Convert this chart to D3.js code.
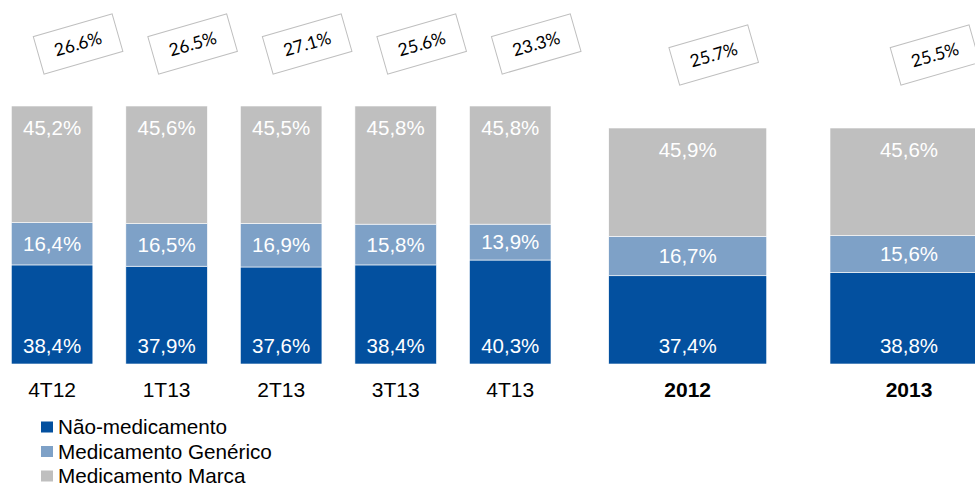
<!DOCTYPE html>
<html>
<head>
<meta charset="utf-8">
<script src="https://cdn.jsdelivr.net/npm/d3@7"></script>
<style>
  html, body { margin: 0; padding: 0; background: #fff; overflow: hidden; }
  svg { display: block; }
</style>
</head>
<body>
<svg id="chart" width="975" height="487"></svg>
<script>
// ---- data ----
const quarterCategories = ["4T12", "1T13", "2T13", "3T13", "4T13"];
const yearCategories = ["2012", "2013"];
const seriesNames = ["Não-medicamento", "Medicamento Genérico", "Medicamento Marca"];
const seriesColors = ["#03509f", "#7ea1c7", "#bfbfbf"];

const quarterNaoMedicamento = [38.4, 37.9, 37.6, 38.4, 40.3];
const quarterGenerico = [16.4, 16.5, 16.9, 15.8, 13.9];
const quarterMarca = [45.2, 45.6, 45.5, 45.8, 45.8];

const yearNaoMedicamento = [37.4, 38.8];
const yearGenerico = [16.7, 15.6];
const yearMarca = [45.9, 45.6];

const quarterAnnotations = [26.6, 26.5, 27.1, 25.6, 23.3];
const yearAnnotations = [25.7, 25.5];

// ---- setup ----
const svg = d3.select("#chart");
const fontMain = "'Liberation Sans', Arial, sans-serif";
const ptLocale = d3.formatLocale({ decimal: ",", thousands: ".", grouping: [3], currency: ["R$", ""] });
const fmtPct = v => ptLocale.format(".1f")(v) + "%";
const fmtAnn = v => d3.format(".1f")(v) + "%";

const xQ = d3.scaleBand().domain(quarterCategories).range([11.3, 551]).paddingInner(0.288).paddingOuter(0);
const xY = d3.scaleBand().domain(yearCategories).range([608.7, 988]).paddingInner(0.286).paddingOuter(0);
const yQ = d3.scaleLinear().domain([0, 100]).range([364, 106]);
const yY = d3.scaleLinear().domain([0, 100]).range([364, 128]);

function buildRows(cats, s0, s1, s2) {
  return cats.map((c, i) => ({ cat: c, vals: [s0[i], s1[i], s2[i]] }));
}
const quarterRows = buildRows(quarterCategories, quarterNaoMedicamento, quarterGenerico, quarterMarca);
const yearRows = buildRows(yearCategories, yearNaoMedicamento, yearGenerico, yearMarca);

const stack = d3.stack().keys([0, 1, 2]).value((d, k) => d.vals[k]);

function drawGroup(rows, x, y, bold, annotations, annDy) {
  const g = svg.append("g");
  const series = stack(rows);
  series.forEach((s, si) => {
    s.forEach(seg => {
      const cat = seg.data.cat;
      const x0 = x(cat), bw = x.bandwidth();
      const yTop = y(seg[1]), yBot = y(seg[0]);
      g.append("rect")
        .attr("x", x0).attr("y", yTop)
        .attr("width", bw).attr("height", yBot - yTop)
        .attr("fill", seriesColors[si])
        .attr("stroke", "#ffffff").attr("stroke-width", 0.6);
      let ty;
      if (si === 2) ty = yTop + 29;
      else if (si === 0) ty = yBot - 11;
      else ty = (yTop + yBot) / 2 + 7.3;
      g.append("text")
        .attr("x", x0 + bw / 2).attr("y", ty)
        .attr("text-anchor", "middle")
        .attr("font-family", fontMain).attr("font-size", 20.5)
        .attr("fill", "#ffffff")
        .text(fmtPct(seg.data.vals[si]));
    });
  });
  // category labels
  rows.forEach(r => {
    g.append("text")
      .attr("x", x(r.cat) + x.bandwidth() / 2).attr("y", 397)
      .attr("text-anchor", "middle")
      .attr("font-family", fontMain).attr("font-size", 21)
      .attr("font-weight", bold ? "bold" : "normal")
      .attr("fill", "#000")
      .text(r.cat);
  });
  // rotated annotation boxes
  rows.forEach((r, i) => {
    const cx = x(r.cat) + x.bandwidth() / 2 + 26;
    const cy = annDy;
    const a = g.append("g").attr("transform", `translate(${cx},${cy}) rotate(-16)`);
    a.append("rect")
      .attr("x", -41).attr("y", -19.5)
      .attr("width", 82).attr("height", 39)
      .attr("fill", "#fff").attr("stroke", "#bfbfbf").attr("stroke-width", 1);
    a.append("text")
      .attr("x", 0).attr("y", 6)
      .attr("text-anchor", "middle")
      .attr("font-family", "Lato, 'Open Sans', sans-serif").attr("font-size", 17.5)
      .attr("fill", "#000")
      .text(fmtAnn(annotations[i]));
  });
}

drawGroup(quarterRows, xQ, yQ, false, quarterAnnotations, 44);
drawGroup(yearRows, xY, yY, true, yearAnnotations, 55);

// ---- legend ----
const legend = svg.append("g");
seriesNames.forEach((name, i) => {
  const ly = 434 + i * 24.5;
  legend.append("rect")
    .attr("x", 41).attr("y", ly - 12.5)
    .attr("width", 12).attr("height", 11)
    .attr("fill", seriesColors[i]);
  legend.append("text")
    .attr("x", 58).attr("y", ly)
    .attr("font-family", fontMain).attr("font-size", 20.7)
    .attr("fill", "#000")
    .text(name);
});
</script>
</body>
</html>
